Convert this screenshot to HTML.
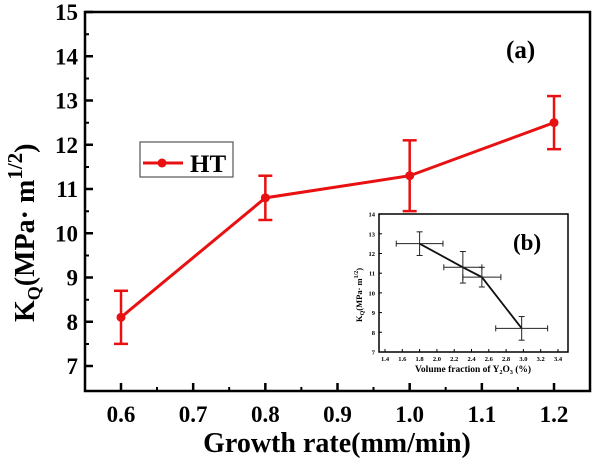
<!DOCTYPE html>
<html><head><meta charset="utf-8"><style>
body{margin:0;background:#fff}
svg{display:block}
svg text{font-family:"Liberation Serif","DejaVu Serif",serif !important;font-weight:bold}
</style></head><body>
<svg width="600" height="461" viewBox="0 0 600 461" font-family="Liberation Serif, DejaVu Serif, serif" font-weight="bold">
<g id="main"></g>
<g id="inset"></g>
</svg>
<script>
const xVals=[0.6,0.8,1.0,1.2];
const yVals=[8.1,10.8,11.3,12.5];
const yErr=[0.6,0.5,0.8,0.6];
const xTicks=[0.6,0.7,0.8,0.9,1.0,1.1,1.2];
const yTicks=[7,8,9,10,11,12,13,14,15];
const inX=[1.8,2.3,2.52,2.98];
const inY=[12.5,11.3,10.8,8.2];
const inXErr=[0.27,0.22,0.22,0.3];
const inYErr=[0.6,0.8,0.5,0.6];
const inXTicks=[1.4,1.6,1.8,2.0,2.2,2.4,2.6,2.8,3.0,3.2,3.4];
const inYTicks=[7,8,9,10,11,12,13,14];
const NS="http://www.w3.org/2000/svg";
function mk(p,t,a,txt){const e=document.createElementNS(NS,t);for(const k in a)e.setAttribute(k,a[k]);if(t==='text'){e.setAttribute('font-family','Liberation Serif, DejaVu Serif, serif');e.setAttribute('font-weight','bold');}if(txt!==undefined)e.textContent=txt;p.appendChild(e);return e;}
const M=document.getElementById('main');
const X=v=>121+(v-0.6)*721.7, Y=v=>366-(v-7)*44.25;
let f=mk(M,'rect',{x:85,y:12,width:505,height:379,fill:'none',stroke:'#000','stroke-width':2.5});

xTicks.forEach((t,i)=>{const x=X(t);
 let l=mk(M,'line',{x1:x,x2:x,y1:391,y2:383,stroke:'#000','stroke-width':2.5});
 
 let m=mk(M,'line',{x1:x+36,x2:x+36,y1:391,y2:387,stroke:'#000','stroke-width':2});
 
 let s=mk(M,'text',{x:x,y:422,'font-size':23,'text-anchor':'middle'},t.toFixed(1));
 });
yTicks.forEach(t=>{const y=Y(t);
 let l=mk(M,'line',{x1:85,x2:93,y1:y,y2:y,stroke:'#000','stroke-width':2.5});
 
 if(t<15){let m=mk(M,'line',{x1:85,x2:89,y1:y-22,y2:y-22,stroke:'#000','stroke-width':2});
 }
 let s=mk(M,'text',{x:78,y:y+8,'font-size':23,'text-anchor':'end'},t);
 });
let pts=xVals.map((v,i)=>X(v)+','+Y(yVals[i])).join(' ');
let pl=mk(M,'polyline',{points:pts,fill:'none',stroke:'#e81010','stroke-width':3});

xVals.forEach((v,i)=>{const x=X(v),y1=Y(yVals[i]+yErr[i]),y2=Y(yVals[i]-yErr[i]);
 let g=mk(M,'g',{stroke:'#e81010','stroke-width':2.5});
 
 mk(g,'line',{x1:x,x2:x,y1:y1,y2:y2});mk(g,'line',{x1:x-7,x2:x+7,y1:y1,y2:y1});mk(g,'line',{x1:x-7,x2:x+7,y1:y2,y2:y2});
 let c=mk(M,'circle',{cx:x,cy:Y(yVals[i]),r:4.5,fill:'#e81010'});
 });
let lg=mk(M,'g',{});
mk(lg,'rect',{x:140,y:142,width:93,height:35,fill:'#fff',stroke:'#555','stroke-width':1.2});
mk(lg,'line',{x1:143,x2:183,y1:163,y2:163,stroke:'#e81010','stroke-width':3});
mk(lg,'circle',{cx:162,cy:163,r:4.5,fill:'#e81010'});
mk(lg,'text',{x:190,y:172,'font-size':25},'HT');
let ta=mk(M,'text',{x:506,y:58,'font-size':25},'(a)');
let xt=mk(M,'text',{x:337,y:452,'font-size':28,'text-anchor':'middle'},'Growth rate(mm/min)');

let yt=mk(M,'text',{transform:'translate(34,322) rotate(-90)','font-size':28});

yt.innerHTML='K<tspan font-size="18" dy="6">Q</tspan><tspan dy="-6">(MPa· m</tspan><tspan font-size="21" dy="-12">1/2</tspan><tspan dy="12">)</tspan>';
// inset
const I=document.getElementById('inset');
const IX=v=>385+(v-1.4)*86.5, IY=v=>352-(v-7)*19.7;
let fi=mk(I,'rect',{x:379,y:214,width:189,height:138,fill:'#fff',stroke:'#000','stroke-width':1.5});

inXTicks.forEach(t=>{const x=IX(t);mk(I,'line',{x1:x,x2:x,y1:352,y2:349,stroke:'#000','stroke-width':1});
 let s=mk(I,'text',{x:x,y:361,'font-size':6.5,'text-anchor':'middle'},t.toFixed(1));
 });
inYTicks.forEach(t=>{const y=IY(t);mk(I,'line',{x1:379,x2:382,y1:y,y2:y,stroke:'#000','stroke-width':1});
 let s=mk(I,'text',{x:375,y:y+2.5,'font-size':6.5,'text-anchor':'end'},t);
 });
let ipl=mk(I,'polyline',{points:inX.map((v,i)=>IX(v)+','+IY(inY[i])).join(' '),fill:'none',stroke:'#111','stroke-width':1.8});

inX.forEach((v,i)=>{const x=IX(v),y=IY(inY[i]);
 let g=mk(I,'g',{stroke:'#222','stroke-width':1});
 const x1=IX(v-inXErr[i]),x2=IX(v+inXErr[i]),y1=IY(inY[i]+inYErr[i]),y2=IY(inY[i]-inYErr[i]);
 mk(g,'line',{x1:x1,x2:x2,y1:y,y2:y});mk(g,'line',{x1:x1,x2:x1,y1:y-3,y2:y+3});mk(g,'line',{x1:x2,x2:x2,y1:y-3,y2:y+3});
 mk(g,'line',{x1:x,x2:x,y1:y1,y2:y2});mk(g,'line',{x1:x-3,x2:x+3,y1:y1,y2:y1});mk(g,'line',{x1:x-3,x2:x+3,y1:y2,y2:y2});});
let tb=mk(I,'text',{x:513,y:250,'font-size':23},'(b)');
let ixt=mk(I,'text',{x:473,y:372,'font-size':9.5,'text-anchor':'middle'});

ixt.innerHTML='Volume fraction of Y<tspan font-size="6" dy="2">2</tspan><tspan dy="-2">O</tspan><tspan font-size="6" dy="2">3</tspan><tspan dy="-2"> (%)</tspan>';
let iyt=mk(I,'text',{transform:'translate(362,322) rotate(-90)','font-size':8.5});

iyt.innerHTML='K<tspan font-size="6" dy="2">Q</tspan><tspan dy="-2">(MPa· m</tspan><tspan font-size="6" dy="-4">1/2</tspan><tspan dy="4">)</tspan>';
</script>
</body></html>
